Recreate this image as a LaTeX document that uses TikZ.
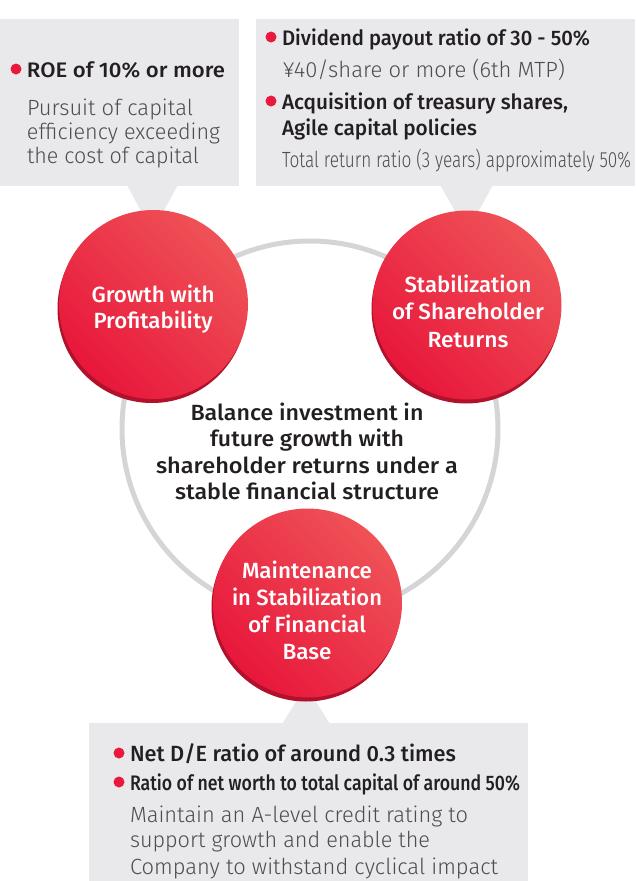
\documentclass[tikz,border=0pt]{standalone}
\usepackage{fontspec}
\usepackage{graphicx}
\setmainfont{Fira Sans}
\newfontfamily\medf{Fira Sans Medium}
\newfontfamily\lightf{Fira Sans Light}
\definecolor{boxgray}{HTML}{E9E9EB}
\definecolor{ringgray}{HTML}{D4D5D7}
\definecolor{bulred}{HTML}{E8193D}
\definecolor{redlight}{HTML}{EF5257}
\definecolor{reddark}{HTML}{E8173B}
\definecolor{rimred}{HTML}{B0112B}
\definecolor{txtdark}{HTML}{231F20}
\definecolor{txtgray}{HTML}{4D4D4F}
\newlength\fitlen
\newcommand\fitw[2]{\settowidth{\fitlen}{#2}\edef\fitfac{\fpeval{#1/(\the\fitlen)}}\scalebox{\fitfac}[1]{#2}}
\tikzset{
 every node/.style={inner sep=0pt, outer sep=0pt},
 boldt/.style={font=\medf\fontsize{21}{24}\selectfont, text=txtdark, anchor=base west},
 bodyt/.style={font=\lightf\fontsize{22}{24}\selectfont, text=txtgray, anchor=base west},
 centt/.style={font=\medf\fontsize{22}{26}\selectfont, text=txtdark, anchor=base},
 circt/.style={font=\medf\fontsize{22}{26}\selectfont, text=white, anchor=base},
 bullet/.style={circle, fill=bulred, minimum size=11pt},
 graybox/.style={fill=boxgray},
 ring/.style={draw=ringgray, line width=5pt},
 redball/.style={circle, minimum size=189pt, top color=redlight, bottom color=reddark, shading angle=-45},
 rim/.style={circle, minimum size=189pt, fill=rimred},
}
\begin{document}
\begin{tikzpicture}[x=1pt,y=-1pt]
\useasboundingbox (0,0) rectangle (635,881);
% ring
\draw[ring] (310,429) circle (188pt);
% callout boxes
\fill[graybox] (0,19) rectangle (239,186);
\fill[graybox] (127,185) -- (178,185) -- (152,232) -- cycle;
\fill[graybox] (256,19) rectangle (635,186);
\fill[graybox] (440,185) -- (493,185) -- (467,232) -- cycle;
\fill[graybox] (89,723) rectangle (528,881);
\fill[graybox] (282,724) -- (330,724) -- (306,686) -- cycle;
% circles
\node[rim] (growR) at (152,308.5) {};
\node[redball] (grow) at (153.5,304.5) {};
\node[rim] (stabR) at (466,309) {};
\node[redball] (stab) at (467,305) {};
\node[rim] (baseR) at (306,607) {};
\node[redball] (base) at (307.5,603) {};
% circle texts
\node[circt] (g1) at (153,302) {\fitw{123}{Growth with}};
\node[circt] (g2) at (153,328) {\fitw{119}{Profitability}};
\node[circt] (s1) at (468,292) {\fitw{127}{Stabilization}};
\node[circt] (s2) at (468,319.5) {\fitw{152}{of Shareholder}};
\node[circt] (s3) at (468,347) {\fitw{81}{Returns}};
\node[circt] (f1) at (307,578) {\fitw{130}{Maintenance}};
\node[circt] (f2) at (307,605) {\fitw{150}{in Stabilization}};
\node[circt] (f3) at (307,632) {\fitw{118}{of Financial}};
\node[circt] (f4) at (307,659) {\fitw{49}{Base}};
% centre text
\node[centt] (c1) at (307,420) {\fitw{233}{Balance investment in}};
\node[centt] (c2) at (307,446.5) {\fitw{194}{future growth with}};
\node[centt] (c3) at (307,473) {\fitw{302}{shareholder returns under a}};
\node[centt] (c4) at (307,499.5) {\fitw{264}{stable financial structure}};
% top-left box text
\node[bullet] (b1) at (16,69) {};
\node[boldt] (roe) at (27,77) {\fitw{198}{ROE of 10\% or more}};
\node[bodyt] (tl1) at (27,115) {\fitw{166}{Pursuit of capital}};
\node[bodyt] (tl2) at (27,139) {\fitw{193}{efficiency exceeding}};
\node[bodyt] (tl3) at (27,163) {\fitw{172}{the cost of capital}};
% top-right box text
\node[bullet] (b2) at (271,37) {};
\node[boldt] (div) at (282,45) {\fitw{308}{Dividend payout ratio of 30 - 50\%}};
\node[bodyt] (yen) at (283,77) {\fitw{282}{¥40/share or more (6th MTP)}};
\node[bullet] (b3) at (271,101) {};
\node[boldt] (acq) at (282,109) {\fitw{286}{Acquisition of treasury shares,}};
\node[boldt] (agile) at (282,135) {\fitw{195}{Agile capital policies}};
\node[bodyt] (tot) at (282,167) {\fitw{349}{Total return ratio (3 years) approximately 50\%}};
% bottom box text
\node[bullet] (b4) at (119,753) {};
\node[boldt, font=\medf\fontsize{22}{24}\selectfont] (nde) at (130,761) {\fitw{326}{Net D/E ratio of around 0.3 times}};
\node[bullet] (b5) at (119,782) {};
\node[boldt] (rat) at (130,790) {\fitw{390}{Ratio of net worth to total capital of around 50\%}};
\node[bodyt] (m1) at (130,822) {\fitw{338}{Maintain an A-level credit rating to}};
\node[bodyt] (m2) at (130,847) {\fitw{300}{support growth and enable the}};
\node[bodyt] (m3) at (130,874) {\fitw{368}{Company to withstand cyclical impact}};
\end{tikzpicture}
\end{document}
